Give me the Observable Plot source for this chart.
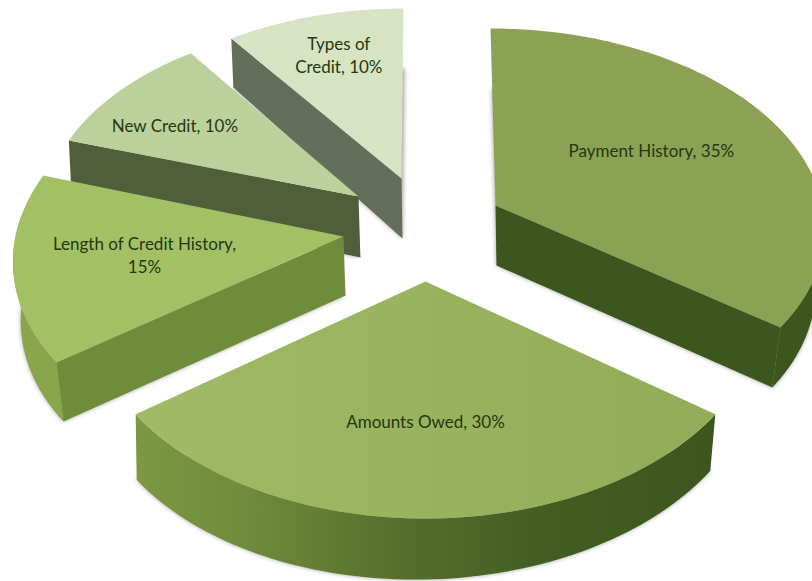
<!DOCTYPE html>
<html>
<head>
<meta charset="utf-8">
<title>Credit score factors</title>
<script src="https://cdn.jsdelivr.net/npm/d3@7"></script>
<script src="https://cdn.jsdelivr.net/npm/@observablehq/plot@0.6"></script>
<style>
  html, body { margin: 0; padding: 0; background: #fff; }
</style>
</head>
<body>
<div id="chart"></div>
<script>
// What makes up a credit score, as shares of 100.
const categories = ["Payment History", "Amounts Owed", "Length of Credit History", "New Credit", "Types of Credit"];
const shares = [35, 30, 15, 10, 10];
const labelLines = [
  "Payment History, 35%",
  "Amounts Owed, 30%",
  "Length of Credit History,\n15%",
  "New Credit, 10%",
  "Types of\nCredit, 10%"
];

// Per-slice drawing setup for the tilted, exploded pie:
// a = apex, A/B = disc radii, S = shear, p = foreshortening, T = wall height,
// k/vx = inward lean of the wall, tilt = wall height change across the slice,
// label = label anchor in disc units, edge/rim = which side walls face the viewer.
const view = [
  {a: [495, 205], A: 327, B: 195, S: -5.5, p: 0.102, T: 60, k: 0.0316, vx: 526, tilt: 0,
   label: [0.495, 0.28], top: "#8ba254", wall: "#3c561e", rimFill: "#3c561e", edge: "end", rim: [90, 126]},
  {a: [425, 281], A: 336, B: 212, S: 0, p: 0.1057, T: 61, k: 0.0104, vx: 232, tilt: -0.0155,
   label: [0, -0.626], top: "url(#topOwed)", wall: "#55702c", rimFill: "url(#rimOwed)", edge: null, rim: [126, 234]},
  {a: [343, 236], A: 328, B: 203, S: 10.8, p: 0.091, T: 59, k: 0.0174, vx: 458, tilt: 0,
   label: [-0.598, -0.098], top: "#a3c164", wall: "#6f8c3b", rimFill: "#88a649", edge: "start", rim: [234, 276]},
  {a: [358, 196], A: 313, B: 184, S: 12, p: 0.048, T: 61, k: 0.003, vx: 1000, tilt: 0.02,
   label: [-0.612, 0.383], top: "#bbd09a", wall: "#505f3a", rimFill: "#505f3a", edge: "start", rim: null},
  {a: [401, 178], A: 316, B: 187, S: 2.2, p: 0.1, T: 60, k: 0.006, vx: 568, tilt: 0.065,
   label: [-0.217, 0.695], top: "#d6e4c4", wall: "#646f5b", rimFill: "#646f5b", edge: "start", rim: null}
];

const arcs = d3.pie().sort(null)(shares);

// Disc coordinates to page coordinates, on the slice's top face.
function project(v, X, Y) {
  const w = 1 + v.p * Y;
  return {x: v.a[0] + (v.A * X + v.S * Y) / w, y: v.a[1] - (v.B * Y) / w};
}
// Same point pushed down to the slice's bottom face.
function lower(v, q) {
  return {x: q.x + (v.vx - q.x) * v.k, y: q.y + v.T + v.tilt * (q.x - v.a[0])};
}
function arcPoints(v, t0, t1) {
  const n = Math.max(2, Math.ceil(Math.abs(t1 - t0) * 40));
  return d3.range(n + 1).map((i) => {
    const t = t0 + ((t1 - t0) * i) / n;
    return project(v, Math.sin(t), Math.cos(t));
  });
}

const softened = (index, scales, values, dimensions, context, next) => {
  const g = next(index, scales, values, dimensions, context);
  g.style.filter = "blur(2px)";
  return g;
};
const face = (points, fill) => Plot.line(points, {x: "x", y: "y", fill, curve: "linear-closed"});
const shadow = (points) => Plot.line(points, {x: "x", y: "y", fill: "#555", fillOpacity: 0.55, curve: "linear-closed", render: softened});

// Painting order runs from the back of the pie to the front.
const order = [4, 3, 2, 0, 1];
const marks = [];
for (const i of order) {
  const v = view[i];
  const {startAngle: t0, endAngle: t1} = arcs[i];
  const apex = project(v, 0, 0);
  const outline = arcPoints(v, t0, t1);
  marks.push(shadow([apex, ...outline].map((q) => lower(v, q))));
  if (v.edge) {
    const t = v.edge === "end" ? t1 : t0;
    const tip = project(v, Math.sin(t), Math.cos(t));
    marks.push(face([apex, tip, lower(v, tip), lower(v, apex)], v.wall));
  }
  if (v.rim) {
    const rim = arcPoints(v, (v.rim[0] * Math.PI) / 180, (v.rim[1] * Math.PI) / 180);
    marks.push(face([...rim, ...rim.map((q) => lower(v, q)).reverse()], v.rimFill));
  }
  marks.push(face([apex, ...outline], v.top));
}

const labels = view.map((v, i) => ({...project(v, v.label[0], v.label[1]), text: labelLines[i], name: categories[i]}));
marks.push(Plot.text(labels, {
  x: "x", y: "y", text: "text", dy: -2.5,
  fill: "#24380f", fontSize: 17, lineHeight: 1.33, textAnchor: "middle",
  fontFamily: "Lato, Carlito, sans-serif"
}));

const chart = Plot.plot({
  width: 812, height: 581,
  margin: 0,
  x: {domain: [0, 812], range: [0, 812], axis: null},
  y: {domain: [0, 581], range: [0, 581], axis: null},
  style: {background: "#fff"},
  marks
});

// Side shading on the largest slice goes from olive on the left to deep green on the right.
const defs = d3.select(chart).insert("defs", ":first-child");
function gradient(id, x1, x2, stops) {
  const g = defs.append("linearGradient").attr("id", id)
    .attr("gradientUnits", "userSpaceOnUse")
    .attr("x1", x1).attr("x2", x2).attr("y1", 0).attr("y2", 0);
  for (const [offset, color] of stops) g.append("stop").attr("offset", offset).attr("stop-color", color);
}
gradient("rimOwed", 136, 715, [[0, "#7d9843"], [0.2, "#6f8a3b"], [0.45, "#566f2d"], [0.7, "#435e22"], [1, "#3c561e"]]);
gradient("topOwed", 136, 715, [[0, "#a0bb65"], [0.5, "#98b25e"], [1, "#92ac59"]]);

document.getElementById("chart").append(chart);
</script>
</body>
</html>
